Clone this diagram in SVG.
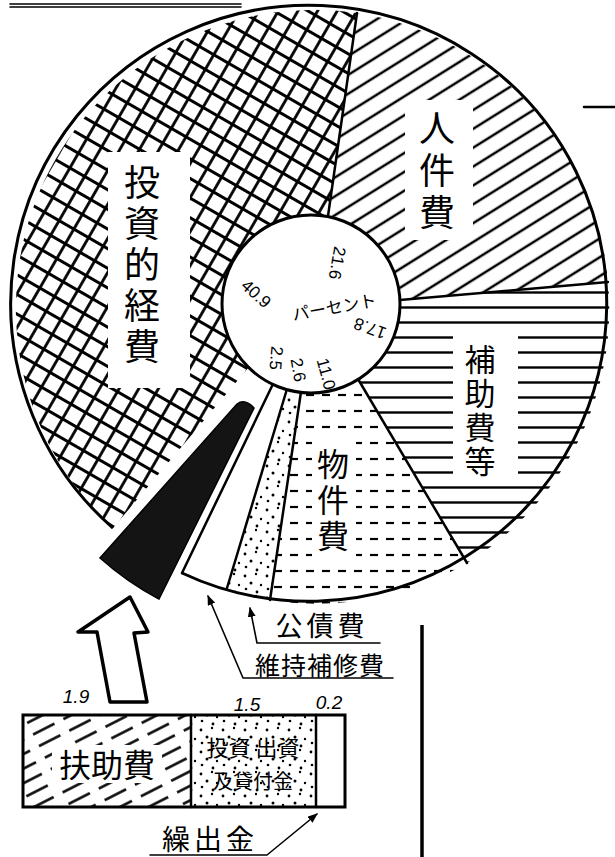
<svg xmlns="http://www.w3.org/2000/svg" width="615" height="857" viewBox="0 0 615 857">
<defs>
<style>
.ln{stroke:#000;fill:none;stroke-width:2.5;stroke-linecap:round;stroke-linejoin:round}
.thin{stroke:#000;fill:none;stroke-width:1.6;stroke-linecap:round;stroke-linejoin:round}
.jp{font-family:"Noto Sans CJK JP","Noto Sans CJK SC",sans-serif;fill:#000;text-anchor:middle}
.vt{writing-mode:vertical-rl;text-orientation:upright}
.num{font-family:"Liberation Sans",Arial,sans-serif;fill:#000;text-anchor:middle;dominant-baseline:central;font-size:17px}
.bn{font-family:"Liberation Sans",Arial,sans-serif;font-style:italic;fill:#000;text-anchor:middle;font-size:19px}
.wb{fill:#fff}
</style>
<pattern id="xh" width="17" height="17" patternUnits="userSpaceOnUse" patternTransform="rotate(30)"><path d="M0 8.5H17M8.5 0V17" stroke="#000" stroke-width="2.8"/></pattern>
<pattern id="dg" width="16" height="16" patternUnits="userSpaceOnUse" patternTransform="rotate(-32)"><path d="M0 8H16" stroke="#000" stroke-width="2.5"/></pattern>
<pattern id="hz" width="15" height="15" patternUnits="userSpaceOnUse"><path d="M0 7.5H15" stroke="#000" stroke-width="2.4"/></pattern>
<pattern id="ds" width="16" height="16" patternUnits="userSpaceOnUse" y="3"><path d="M2 8H10" stroke="#000" stroke-width="2.2"/></pattern>
<pattern id="dt" width="22" height="22" patternUnits="userSpaceOnUse"><g fill="#000"><circle cx="3" cy="4" r="1.4"/><circle cx="14" cy="2" r="1.2"/><circle cx="9" cy="11" r="1.5"/><circle cx="19" cy="13" r="1.2"/><circle cx="4" cy="17" r="1.3"/><circle cx="15" cy="20" r="1.4"/></g></pattern>
<pattern id="bh" width="34" height="13" patternUnits="userSpaceOnUse" patternTransform="rotate(-27)"><path d="M2 6.5H26" stroke="#000" stroke-width="2.5"/></pattern>
<marker id="ah" viewBox="0 0 10 8" refX="9" refY="4" markerWidth="10" markerHeight="8" markerUnits="userSpaceOnUse" orient="auto"><path d="M0,0 L10,4 L0,8 z" fill="#000"/></marker>
</defs>
<rect width="615" height="857" fill="#fff"/>

<g id="frame-lines">
<path class="thin" d="M10 4H241M10 7H241"/>
<path class="ln" d="M584 107H615"/>
<path d="M422 625V857" stroke="#000" stroke-width="3.5"/>
</g>

<g id="sector-toushi">
<path d="M113,528 A298,298 0 0 1 357,13 L328,216 A89,89 0 0 0 249,367 Z" fill="url(#xh)"/>
<rect class="wb" x="108" y="152" width="82" height="236"/>
<text class="jp vt" font-size="36" letter-spacing="5" x="142" y="267">投資的経費</text>
</g>

<g id="sector-jinken">
<path d="M357,13 A298,298 0 0 1 608,282 L400,300 A89,89 0 0 0 328,216 Z" fill="url(#dg)"/>
<rect class="wb" x="405" y="100" width="68" height="140"/>
<text class="jp vt" font-size="36" letter-spacing="6" x="437" y="173">人件費</text>
</g>

<g id="sector-hojo">
<path d="M608,282 A298,298 0 0 1 467,563 L358,379 A89,89 0 0 0 400,300 Z" fill="url(#hz)"/>
<rect class="wb" x="453" y="333" width="65" height="145"/>
<text class="jp vt" font-size="31" letter-spacing="3" x="480" y="412">補助費等</text>
</g>

<g id="sector-bukken">
<path d="M301,392 A89,89 0 0 0 358,379 L467,563 A298,298 0 0 1 270,600 Z" fill="url(#ds)"/>
<rect class="wb" x="312" y="440" width="44" height="120"/>
<text class="jp vt" font-size="32" letter-spacing="4" x="333" y="502">物件費</text>
</g>

<g id="sector-kousai">
<path d="M287,389 A89,89 0 0 0 301,392 L270,600 A298,298 0 0 1 227,588 Z" fill="url(#dt)"/>
</g>

<g id="sector-iji">
<path d="M273,384 A89,89 0 0 0 287,389 L227,588 A298,298 0 0 1 182,573 Z" fill="#fff"/>
</g>

<g id="sector-black">
<path d="M237,404 Q245,398 254,408 L159,599 Q128,583 100,558 Z" fill="#141414" stroke="#000" stroke-width="1.5"/>
</g>

<g id="pie-outlines">
<path d="M113,528 A298,298 0 1 1 182,573" stroke="#000" stroke-width="3" fill="none"/>
<path class="ln" d="M357,13 L328,216"/>
<path class="ln" d="M608,282 L400,300"/>
<path class="ln" d="M467,563 L358,379"/>
<path class="ln" d="M301,392 L270,600"/>
<path class="ln" d="M287,389 L227,588"/>
<path class="ln" d="M273,384 L182,573"/>
</g>

<g id="center">
<circle cx="311" cy="304" r="89" fill="#fff" stroke="#000" stroke-width="3"/>
<text class="jp" font-size="17" dominant-baseline="central" transform="translate(334,306) rotate(-10)">パーセント</text>
<text class="num" font-size="18" transform="translate(256,294) rotate(42)">40.9</text>
<text class="num" transform="translate(337,263) rotate(100)">21.6</text>
<text class="num" transform="translate(370,328) rotate(200)">17.8</text>
<text class="num" transform="translate(326,374) rotate(75)">11.0</text>
<text class="num" font-size="15" transform="translate(276,358) rotate(95)">2.5</text>
<text class="num" font-size="15" transform="translate(298,370) rotate(80)">2.6</text>
</g>

<g id="label-kousai">
<text class="jp" font-size="27" letter-spacing="4" x="322" y="636">公債費</text>
</g>
<g id="label-iji">
<text class="jp" font-size="25" letter-spacing="1" x="320" y="675">維持補修費</text>
</g>

<g id="bar">
<rect x="23" y="715" width="168" height="92" fill="url(#bh)"/>
<rect class="wb" x="52" y="745" width="110" height="38"/>
<rect x="191" y="715" width="125" height="92" fill="url(#dt)"/>
<rect x="23" y="715" width="322" height="92" fill="none" stroke="#000" stroke-width="3"/>
<path class="ln" d="M191 715V807M316 715V807"/>
<text class="jp" font-size="32" x="107" y="777">扶助費</text>
<text class="jp" font-size="22" x="253" y="756">投資 出資</text>
<text class="jp" font-size="20" x="253" y="789">及貸付金</text>
<text class="bn" x="76" y="703">1.9</text>
<text class="bn" x="247" y="711">1.5</text>
<text class="bn" x="329" y="709">0.2</text>
</g>

<g id="label-kuridashi">
<text class="jp" font-size="28" x="210" y="850" letter-spacing="4">繰出金</text>
</g>

<g id="connectors">
<polygon points="130,597 148,632 134,633 147,702 110,702 97,632 78,632" fill="#fff" stroke="#000" stroke-width="3.5" stroke-linejoin="round"/>
<polyline class="thin" points="380,643 257,643 250,608" marker-end="url(#ah)"/>
<polyline class="thin" points="393,678 243,678 208,596" marker-end="url(#ah)"/>
<polyline class="thin" points="150,855 267,855 317,814" marker-end="url(#ah)"/>
</g>
</svg>
